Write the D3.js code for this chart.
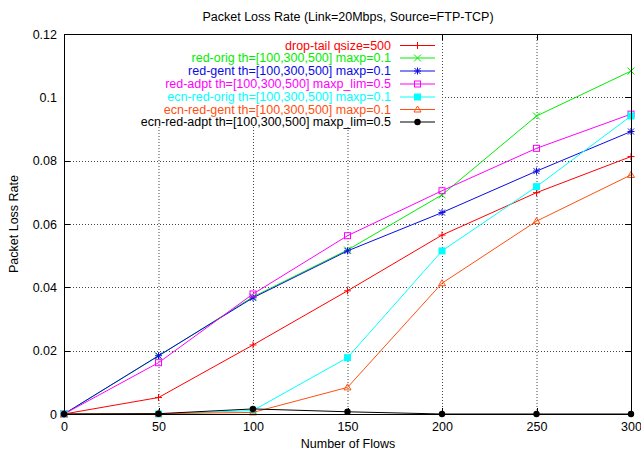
<!DOCTYPE html>
<html><head><meta charset="utf-8">
<script src="https://cdn.jsdelivr.net/npm/d3@7"></script>
<style>body{margin:0;background:#fff}svg{display:block}text{font-family:"Liberation Sans",Arial,sans-serif;}</style>
</head><body>
<svg id="c" width="641" height="455"></svg>
<script>
const flows=[0,50,100,150,200,250,300];
const xTicks=[0,50,100,150,200,250,300];
const yTicks=[0,0.02,0.04,0.06,0.08,0.1,0.12];
const seriesNames=["drop-tail qsize=500","red-orig th=[100,300,500] maxp=0.1","red-gent th=[100,300,500] maxp=0.1","red-adpt th=[100,300,500] maxp_lim=0.5","ecn-red-orig th=[100,300,500] maxp=0.1","ecn-red-gent th=[100,300,500] maxp=0.1","ecn-red-adpt th=[100,300,500] maxp_lim=0.5"];
const dropTail=[0,0.0052,0.0218,0.0389,0.0565,0.0699,0.0813];
const redOrig=[0,0.0183,0.0370,0.0518,0.0692,0.0941,0.1083];
const redGent=[0,0.0184,0.0367,0.0515,0.0636,0.0767,0.0892];
const redAdpt=[0,0.0162,0.0379,0.0563,0.0705,0.0839,0.0947];
const ecnRedOrig=[0,0.0000,0.0011,0.0178,0.0515,0.0718,0.0941];
const ecnRedGent=[0,0.0001,0.0005,0.0084,0.0413,0.0609,0.0755];
const ecnRedAdpt=[0,0.0001,0.0016,0.0007,0,0,0];
const colors=["#ff0000","#00ee00","#0a0ae6","#ff00ff","#00ffff","#ff5010","#000000"];
const markers=["plus","cross","star","openSquare","fillSquare","openTriangle","fillCircle"];
const allValues=[dropTail,redOrig,redGent,redAdpt,ecnRedOrig,ecnRedGent,ecnRedAdpt];
const FS=12.5;

const svg=d3.select("#c");
const L=64,R=631,T=34,B=414;
const x=d3.scaleLinear().domain([0,300]).range([L,R]);
const y=d3.scaleLinear().domain([0,0.12]).range([B,T]);

// title
svg.append("text").attr("x",348).attr("y",21).attr("text-anchor","middle").attr("font-size",FS).text("Packet Loss Rate (Link=20Mbps, Source=FTP-TCP)");

// grid
const grid=svg.append("g").attr("stroke","#444").attr("stroke-width",1).attr("stroke-dasharray","1,2");
xTicks.filter(t=>t>0&&t<300).forEach(t=>grid.append("line").attr("x1",x(t)+0.5).attr("x2",x(t)+0.5).attr("y1",T).attr("y2",B));
yTicks.filter(t=>t>0&&t<0.12).forEach(t=>grid.append("line").attr("x1",L).attr("x2",R).attr("y1",Math.round(y(t))+0.5).attr("y2",Math.round(y(t))+0.5));

// axes using d3 axis
const ax=svg.append("g").attr("transform",`translate(0,${B})`).call(d3.axisBottom(x).tickValues(xTicks).tickSize(0).tickPadding(8).tickFormat(d3.format("d")));
ax.select(".domain").remove();
ax.selectAll("text").attr("font-size",FS).attr("fill","#000").attr("font-family","Liberation Sans, Arial, sans-serif");
const ay=svg.append("g").attr("transform",`translate(${L},0)`).call(d3.axisLeft(y).tickValues(yTicks).tickSize(0).tickPadding(7).tickFormat(d=>String(+d.toFixed(2))));
ay.select(".domain").remove();
ay.selectAll("text").attr("font-size",FS).attr("fill","#000").attr("font-family","Liberation Sans, Arial, sans-serif");

// tick marks (inward, mirrored)
const tk=svg.append("g").attr("stroke","#000").attr("stroke-width",1);
xTicks.forEach(t=>{const px=Math.round(x(t))+0.5;tk.append("line").attr("x1",px).attr("x2",px).attr("y1",B).attr("y2",B-6);tk.append("line").attr("x1",px).attr("x2",px).attr("y1",T).attr("y2",T+6);});
yTicks.forEach(t=>{const py=Math.round(y(t))+0.5;tk.append("line").attr("x1",L).attr("x2",L+6).attr("y1",py).attr("y2",py);tk.append("line").attr("x1",R).attr("x2",R-6).attr("y1",py).attr("y2",py);});

// axis labels
svg.append("text").attr("x",348).attr("y",448).attr("text-anchor","middle").attr("font-size",FS).text("Number of Flows");
svg.append("text").attr("transform","translate(18,224) rotate(-90)").attr("text-anchor","middle").attr("font-size",FS).text("Packet Loss Rate");

// legend background (opaque key)
svg.append("rect").attr("x",L+1).attr("y",T+1).attr("width",442-L-1).attr("height",127-T-1).attr("fill","#fff");

function marker(g,type,cx,cy,color){
  const s=3.5;
  switch(type){
    case "plus": g.append("path").attr("d",`M${cx-s},${cy}H${cx+s}M${cx},${cy-s}V${cy+s}`).attr("stroke",color).attr("stroke-width",1).attr("fill","none");break;
    case "cross": g.append("path").attr("d",`M${cx-s},${cy-s}L${cx+s},${cy+s}M${cx-s},${cy+s}L${cx+s},${cy-s}`).attr("stroke",color).attr("stroke-width",1).attr("fill","none");break;
    case "star": g.append("path").attr("d",`M${cx-s},${cy}H${cx+s}M${cx},${cy-s}V${cy+s}M${cx-s+0.5},${cy-s+0.5}L${cx+s-0.5},${cy+s-0.5}M${cx-s+0.5},${cy+s-0.5}L${cx+s-0.5},${cy-s+0.5}`).attr("stroke",color).attr("stroke-width",1).attr("fill","none");break;
    case "openSquare": g.append("rect").attr("x",cx-3).attr("y",cy-3).attr("width",6).attr("height",6).attr("stroke",color).attr("fill","none").attr("stroke-width",1);break;
    case "fillSquare": g.append("rect").attr("x",cx-3.5).attr("y",cy-3.5).attr("width",7).attr("height",7).attr("fill",color);break;
    case "openTriangle": g.append("path").attr("d",`M${cx},${cy-3.5}L${cx+3.5},${cy+2.5}L${cx-3.5},${cy+2.5}Z`).attr("stroke",color).attr("fill","none").attr("stroke-width",1);break;
    case "fillCircle": g.append("circle").attr("cx",cx).attr("cy",cy).attr("r",3.2).attr("fill",color);break;
  }
}

// legend
const legY=[45.5,58,71,84,97,109.5,122];
const lg=svg.append("g");
seriesNames.forEach((n,i)=>{
  lg.append("text").attr("x",391).attr("y",legY[i]+4.4).attr("text-anchor","end").attr("font-size",FS).attr("fill",colors[i]).text(n);
  lg.append("line").attr("x1",400).attr("x2",435).attr("y1",legY[i]).attr("y2",legY[i]).attr("stroke",colors[i]).attr("stroke-width",1);
  marker(lg,markers[i],417.5,legY[i],colors[i]);
});

// data
const line=d3.line().x((d,i)=>x(flows[i])).y(d=>y(d));
allValues.forEach((vals,i)=>{
  const g=svg.append("g");
  g.append("path").datum(vals).attr("d",line).attr("fill","none").attr("stroke",colors[i]).attr("stroke-width",1);
  vals.forEach((v,j)=>marker(g,markers[i],x(flows[j]),y(v),colors[i]));
});

// border
svg.append("rect").attr("x",L+0.5).attr("y",T+0.5).attr("width",R-L).attr("height",B-T).attr("fill","none").attr("stroke","#000").attr("stroke-width",1);
</script>
</body></html>
